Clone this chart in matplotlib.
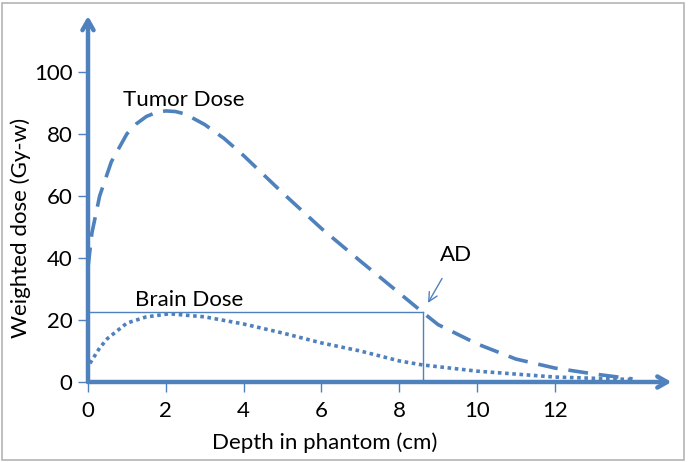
import numpy as np
import matplotlib.pyplot as plt
from matplotlib.patches import Rectangle

# data
depth_tumor = [0, 0.1, 0.3, 0.6, 1.0, 1.25, 1.5, 1.75, 2.0, 2.25, 2.5, 3, 3.5, 4, 5, 6, 7, 8, 8.6, 9, 10, 11, 12, 13, 14]
tumor_dose = [37, 48, 60, 71, 80, 83.3, 85.6, 86.9, 87.4, 87.2, 86.4, 83, 78.5, 73, 61, 49.5, 39, 28.7, 22.5, 18.5, 12.3, 7.4, 4.5, 2.6, 1.0]
depth_brain = [0.05, 0.3, 0.5, 1.0, 1.5, 2.1, 3, 4, 5, 6, 7, 8, 8.6, 10, 12, 14]
brain_dose = [6, 11, 14, 19, 21, 22, 21, 18.7, 15.8, 12.6, 10, 6.8, 5.5, 3.5, 1.6, 0.8]
ad_depth = 8.6
ad_dose = 22.5

blue = '#4F81BD'
fs = 16
plt.rcParams['font.family'] = ['Lato', 'DejaVu Sans']

fig = plt.figure(figsize=(6.88, 4.62), dpi=100)
ax = fig.add_axes([88/688, 80/462, 583.5/688, 366/462])
fig.patches.append(Rectangle((2/688, 2/462), 682/688, 457/462, transform=fig.transFigure,
                             fill=False, edgecolor='#b4b4b4', lw=1.2))

ax.plot(depth_tumor, tumor_dose, color=blue, lw=2.6, dashes=(5.5, 3), clip_on=False)
ax.plot(depth_brain, brain_dose, color=blue, lw=2.6, dashes=(1, 1), clip_on=False)

# AD guide lines
ax.plot([0, ad_depth], [ad_dose, ad_dose], color=blue, lw=1)
ax.plot([ad_depth, ad_depth], [0, ad_dose], color=blue, lw=1)
ax.annotate('AD', xy=(8.74, 25.5), xytext=(9.45, 41), fontsize=fs, ha='center', va='center',
            arrowprops=dict(arrowstyle='->', color=blue, lw=1, shrinkA=9, shrinkB=0))

ax.text(2.47, 91, 'Tumor Dose', fontsize=fs, ha='center', va='center')
ax.text(2.6, 26.5, 'Brain Dose', fontsize=fs, ha='center', va='center')

ax.set_xlim(0, 15)
ax.set_ylim(0, 118)
for s in ax.spines.values():
    s.set_visible(False)
# axes drawn as arrows
ax.annotate('', xy=(1, 0), xytext=(0, 0), xycoords='axes fraction',
            arrowprops=dict(arrowstyle='->,head_length=0.7,head_width=0.4', color=blue, lw=3.2,
                            shrinkA=0, shrinkB=0))
ax.annotate('', xy=(0, 1), xytext=(0, 0), xycoords='axes fraction',
            arrowprops=dict(arrowstyle='->,head_length=0.7,head_width=0.4', color=blue, lw=3.2,
                            shrinkA=0, shrinkB=0))

ax.set_xticks([0, 2, 4, 6, 8, 10, 12])
ax.set_yticks([0, 20, 40, 60, 80, 100])
ax.tick_params(axis='both', colors=blue, labelcolor='black', labelsize=fs, length=7, width=1)
ax.tick_params(axis='x', pad=7)
ax.tick_params(axis='y', pad=4)
ax.set_xlabel('Depth in phantom (cm)', fontsize=fs)
ax.set_ylabel('Weighted dose (Gy-w)', fontsize=fs)
ax.xaxis.set_label_coords(0.405, -0.137)
ax.yaxis.set_label_coords(-0.097, 0.42)

plt.savefig('out.png', dpi=100)
